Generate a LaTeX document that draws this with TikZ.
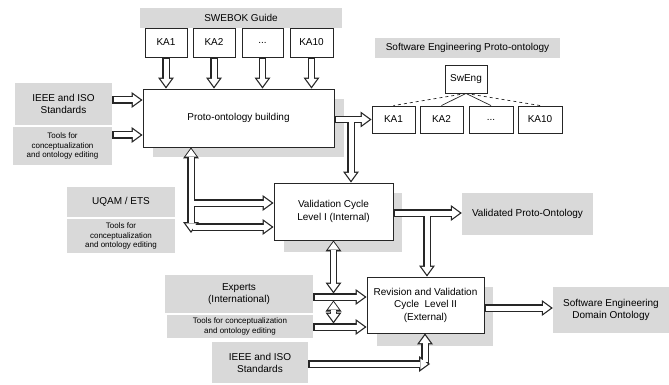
\documentclass[tikz,border=0pt]{standalone}
\usepackage{fontspec}
\setmainfont{Liberation Sans}
\usetikzlibrary{arrows.meta}
\newcommand\hollowset[1]{%
 \foreach \kk in {sk1,sk2,sk3,sk4}{\draw[#1,->] (\kk.south) -- (\kk.south |- proto.north);}
 \draw[#1,->] (ieee1.east |- 0,100) -- (proto.west |- 0,100);
 \draw[#1,->] (tools1.east |- 0,135) -- (proto.west |- 0,135);
 \draw[#1,->] (proto.east |- pk1.west) -- (pk1.west);
 \draw[#1,->] (b1) -- (b1 |- val.north);
 \draw[#1,<->] (bx |- proto.south) -- (bx);
 \draw[#1,->] (bx |- 0,203) -- (val.west |- 0,203);
 \draw[#1,->] (bx |- 0,227) -- (val.west |- 0,227);
 \draw[#1,->] (val.east |- 0,213) -- (vpo.west |- 0,213);
 \draw[#1,->] (b2) -- (b2 |- rev.north);
 \draw[#1,<->] (val.south) -- (val.south |- 0,293.5);
 \draw[#1,<->] (val.south |- 0,300.5) -- (val.south |- 0,323.5);
 \draw[#1,->] (exp.east |- 0,297) -- (rev.west |- 0,297);
 \draw[#1,->] (tools2.east |- 0,327) -- (rev.west |- 0,327);
 \draw[#1,->] (ieee2.east |- 0,364) -- (ie);
 \draw[#1,->] (ib) -- (ib |- rev.south);
 \draw[#1,->] (rev.east |- 0,308) -- (sedo.west |- 0,308);
}
\begin{document}
\begin{tikzpicture}[x=1pt,y=-1pt,
  box/.style={draw=black!85, line width=0.9pt, fill=white, inner sep=1pt, align=center, font=\fontsize{10}{12.5}\selectfont},
  shd/.style={fill=black!15, draw=none, inner sep=0pt, align=center, font=\fontsize{10}{12}\selectfont},
  small/.style={font=\fontsize{8}{9.5}\selectfont},
  shadow/.style={fill=black!15},
  outerA/.style={line width=7.5pt, draw=black!85, >={Triangle[width=16pt,length=11pt,line width=0pt]}},
  innerA/.style={line width=5pt, draw=white, >={Triangle[width=11.1pt,length=7.6pt,line width=0pt]}, shorten >=2.1pt, shorten <=1.6pt},
  tree/.style={draw=black!85, line width=0.7pt}
]
\useasboundingbox (0,0) rectangle (669,385);
% shaded labels
\node[shd, minimum width=202pt, minimum height=20pt] (swebok) at (241,18) {SWEBOK Guide};
\node[shd, minimum width=185pt, minimum height=20pt] (sepo) at (467.5,48) {Software Engineering Proto-ontology};
\node[shd, minimum width=97pt, minimum height=42pt] (ieee1) at (63.5,104) {IEEE and ISO\\Standards};
\node[shd, small, minimum width=99pt, minimum height=38pt] (tools1) at (62.5,146) {Tools for\\conceptualization\\and ontology editing};
\node[shd, minimum width=108pt, minimum height=30pt] (uqam) at (121,202) {UQAM / ETS};
\node[shd, small, minimum width=108pt, minimum height=34pt] (tools3) at (121,236) {Tools for\\conceptualization\\and ontology editing};
\node[shd, minimum width=131pt, minimum height=42pt] (vpo) at (527.5,214) {Validated Proto-Ontology};
\node[shd, minimum width=116pt, minimum height=46pt] (sedo) at (611,310) {Software Engineering\\Domain Ontology};
\node[shd, minimum width=148pt, minimum height=38pt] (exp) at (239,294) {Experts\\(International)};
\node[shd, small, minimum width=146pt, minimum height=23pt] (tools2) at (240,326.5) {Tools for conceptualization\\and ontology editing};
\node[shd, minimum width=96pt, minimum height=41pt] (ieee2) at (260,362.5) {IEEE and ISO\\Standards};
% shadows
\fill[shadow] (153,99) rectangle (344,157);
\fill[shadow] (284,193) rectangle (402,252);
\fill[shadow] (377,287) rectangle (493,346);
% boxes
\node[box, minimum width=42pt, minimum height=29pt] (sk1) at (166,42.5) {KA1};
\node[box, minimum width=42pt, minimum height=29pt] (sk2) at (214,42.5) {KA2};
\node[box, minimum width=41pt, minimum height=29pt] (sk3) at (262.5,42.5) {...};
\node[box, minimum width=43pt, minimum height=29pt] (sk4) at (311.5,42.5) {KA10};
\node[box, minimum width=191pt, minimum height=58pt] (proto) at (238.5,118) {Proto-ontology building};
\node[box, minimum width=42pt, minimum height=28pt] (sweng) at (466,79) {SwEng};
\node[box, minimum width=43pt, minimum height=27pt] (pk1) at (393.5,119.5) {KA1};
\node[box, minimum width=43pt, minimum height=27pt] (pk2) at (441.5,119.5) {KA2};
\node[box, minimum width=44pt, minimum height=27pt] (pk3) at (491,119.5) {...};
\node[box, minimum width=44pt, minimum height=27pt] (pk4) at (540,119.5) {KA10};
\node[box, minimum width=119pt, minimum height=57pt] (val) at (333.5,211.5) {Validation Cycle\\Level I (Internal)};
\node[box, minimum width=117pt, minimum height=56pt] (rev) at (425.5,305) {Revision and Validation\\Cycle~~Level II\\(External)};
% tree
\draw[tree, dashed] (sweng.south) -- (pk1.north);
\draw[tree] (sweng.south) -- (pk2.north);
\draw[tree] (sweng.south) -- (pk3.north);
\draw[tree, dashed] (sweng.south) -- (pk4.north);
% connector points
\coordinate (b1) at (351,119.5);
\coordinate (bx) at (191,233);
\coordinate (b2) at (427,213);
\coordinate (ie) at (430,364);
\coordinate (ib) at (425,364);
% hollow arrows: outline pass, then interior pass
\hollowset{outerA}
\hollowset{innerA}
\end{tikzpicture}
\end{document}
